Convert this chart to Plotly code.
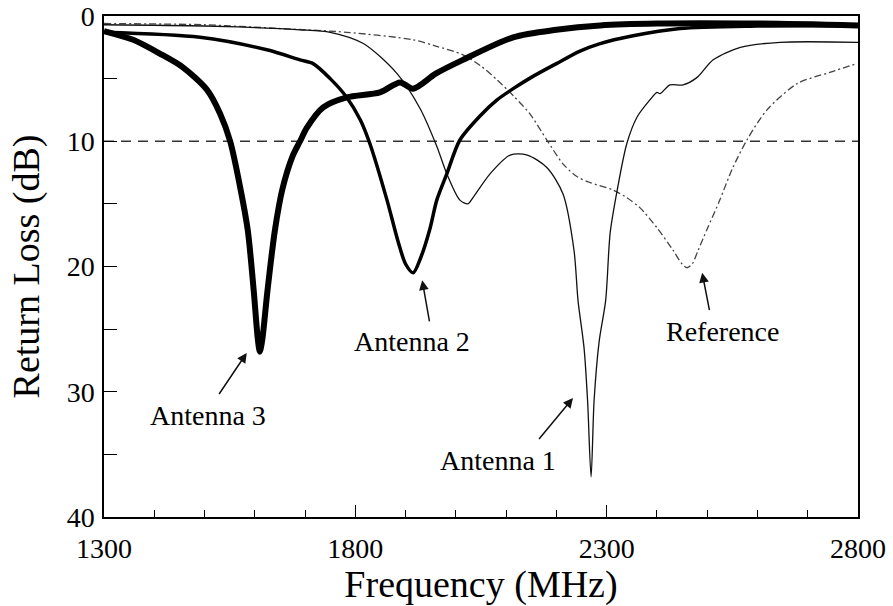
import plotly.graph_objects as go

# ---- data (frequency in MHz, return loss in dB) ----
ant3_f = [1300, 1358, 1411, 1457, 1505, 1531, 1551, 1571, 1586, 1598, 1606, 1610, 1615, 1625, 1640,
          1655, 1675, 1690, 1704, 1736, 1783, 1849, 1889, 1915, 1960, 2014, 2114, 2200, 2287, 2400, 2600, 2800]
ant3_db = [1.2, 1.9, 3.0, 4.1, 5.9, 7.8, 10.0, 13.7, 17.1, 22.0, 25.8, 26.8, 25.8, 22.0, 17.1,
           13.8, 11.2, 10.0, 8.9, 7.3, 6.5, 6.1, 5.3, 5.8, 4.6, 3.5, 1.7, 1.1, 0.75, 0.6, 0.6, 0.75]

ant2_f = [1300, 1491, 1624, 1690, 1716, 1750, 1783, 1810, 1829, 1863, 1885, 1900, 1915, 1930,
          1949, 1962, 1982, 2008, 2050, 2082, 2114, 2150, 2200, 2247, 2287, 2350, 2446, 2600, 2800]
ant2_db = [1.3, 1.7, 2.7, 3.5, 3.8, 5.0, 6.5, 8.3, 10.2, 14.7, 18.0, 19.8, 20.5, 19.3,
           16.9, 14.7, 12.6, 9.9, 7.9, 6.7, 5.8, 4.9, 3.8, 2.8, 2.2, 1.6, 1.0, 0.8, 0.75]

ant1_f = [1300, 1500, 1650, 1690, 1750, 1816, 1883, 1929, 1962, 1982, 2008, 2024, 2034, 2068,
          2108, 2142, 2181, 2213, 2235, 2243, 2255, 2262, 2269, 2275, 2285, 2298, 2307, 2321, 2340,
          2360, 2386, 2400, 2406, 2426, 2452, 2480, 2512, 2566, 2645, 2800]
ant1_db = [0.7, 0.8, 1.0, 1.1, 1.3, 2.2, 4.6, 7.4, 10.4, 12.6, 14.7, 15.0, 14.5, 12.6,
           11.1, 11.1, 12.1, 14.2, 18.7, 22.7, 26.5, 30.7, 36.8, 30.7, 26.0, 22.7, 17.3, 13.9, 10.2,
           8.1, 6.7, 6.1, 6.2, 5.5, 5.5, 4.9, 3.5, 2.5, 2.1, 2.1]

ref_f = [1300, 1500, 1650, 1783, 1915, 1960, 2014, 2050, 2082, 2115, 2147, 2181, 2213, 2240, 2267,
         2313, 2340, 2366, 2400, 2432, 2450, 2460, 2470, 2482, 2500, 2525, 2550, 2579, 2619, 2679, 2744, 2798]
ref_db = [0.6, 0.7, 1.0, 1.3, 1.9, 2.4, 3.1, 4.0, 5.1, 6.4, 7.8, 9.9, 11.8, 12.8, 13.3,
          13.9, 14.5, 15.3, 16.9, 18.7, 19.8, 20.1, 19.8, 18.7, 17.0, 14.7, 12.2, 9.9, 7.5, 5.4, 4.5, 3.8]

threshold_db = 10
freq_range = [1300, 2800]
x_ticks = [1300, 1800, 2300, 2800]
y_ticks = [0, 10, 20, 30, 40]

labels = ["Antenna 3", "Antenna 2", "Antenna 1", "Reference"]
label_pos = [(1507, 31.9), (1913, 26.0), (2084, 35.5), (2530, 25.2)]
arrow_head = [(1584, 26.9), (1933, 21.1), (2233, 30.5), (2490, 20.5)]
arrow_tail = [(1527, 30.3), (1948, 24.5), (2163, 33.9), (2505, 23.6)]

FONT = "Liberation Serif, Times New Roman, serif"

fig = go.Figure()
fig.add_trace(go.Scatter(x=freq_range, y=[threshold_db, threshold_db], mode="lines",
                         line=dict(color="#333333", width=1.5, dash="10px,7px")))
fig.add_trace(go.Scatter(x=ref_f, y=ref_db, mode="lines", line_shape="spline",
                         line=dict(color="#444444", width=1.3, dash="7px,3px,2px,3px", smoothing=0.8)))
fig.add_trace(go.Scatter(x=ant1_f, y=ant1_db, mode="lines", line_shape="spline",
                         line=dict(color="#111111", width=1.3, smoothing=0.8)))
fig.add_trace(go.Scatter(x=ant2_f, y=ant2_db, mode="lines", line_shape="spline",
                         line=dict(color="#000000", width=3.5, smoothing=0.8)))
fig.add_trace(go.Scatter(x=ant3_f, y=ant3_db, mode="lines", line_shape="spline",
                         line=dict(color="#000000", width=6, smoothing=0.8)))

for txt, (tx, ty), (hx, hy), (ax, ay) in zip(labels, label_pos, arrow_head, arrow_tail):
    fig.add_annotation(x=tx, y=ty, text=txt, showarrow=False,
                       font=dict(family=FONT, size=28, color="black"))
    fig.add_annotation(x=hx, y=hy, ax=ax, ay=ay, axref="x", ayref="y", text="",
                       showarrow=True, arrowhead=2, arrowsize=1.3, arrowwidth=1.5,
                       arrowcolor="#111111", standoff=0)

fig.update_layout(
    width=893, height=606,
    margin=dict(l=104, r=35, t=16, b=89),
    paper_bgcolor="white", plot_bgcolor="white",
    showlegend=False,
    font=dict(family=FONT, size=28, color="black"),
)
fig.update_xaxes(range=freq_range, tickvals=x_ticks, ticks="inside", ticklen=12, tickwidth=1.3,
                 tickcolor="black", showline=True, linecolor="black", linewidth=1.5, mirror=True,
                 showgrid=False, zeroline=False, automargin=False, ticklabelstandoff=6,
                 minor=dict(dtick=100, tick0=1300, ticks="inside", ticklen=7, tickwidth=1.2, tickcolor="black"),
                 title=dict(text="Frequency (MHz)", font=dict(family=FONT, size=38), standoff=8),
                 tickfont=dict(family=FONT, size=28))
fig.update_yaxes(range=[40, 0], tickvals=y_ticks, ticks="inside", ticklen=13, tickwidth=1.3,
                 tickcolor="black", showline=True, linecolor="black", linewidth=1.5, mirror=True,
                 showgrid=False, zeroline=False, automargin=False, ticklabelstandoff=2,
                 minor=dict(dtick=5, tick0=0, ticks="inside", ticklen=13, tickwidth=1.2, tickcolor="black"),
                 title=dict(text="Return Loss (dB)", font=dict(family=FONT, size=38), standoff=15),
                 tickfont=dict(family=FONT, size=28))

fig.write_html("out.html")
